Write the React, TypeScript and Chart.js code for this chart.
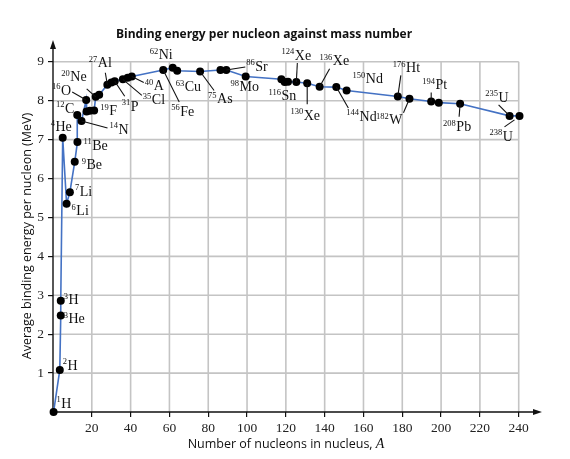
import React, { useEffect, useRef } from "react";
import Chart, { ChartConfiguration, Plugin } from "chart.js/auto";

// mass number A of each plotted nucleus
const massNumbers = [
  0.3, 3.5, 4, 4, 5, 7, 8.7, 11.2, 12.6, 12.5, 14.7, 17.1, 17.3, 19, 21.2, 22, 23.8,
  28, 30.1, 31.8, 36, 38.5, 40.6, 56.8, 61.7, 64, 75.8, 86.3, 89.3, 99.3, 117.7,
  119.4, 121.1, 125.4, 131, 137.4, 146, 151.3, 177.7, 183.7, 194.9, 198.8, 209.8,
  235.3, 240.4,
];
// average binding energy per nucleon, MeV
const energies = [
  0, 1.08, 2.48, 2.86, 7.05, 5.35, 5.65, 6.43, 6.94, 7.63, 7.48, 8.02, 7.72, 7.74,
  7.75, 8.1, 8.15, 8.41, 8.47, 8.5, 8.55, 8.59, 8.62, 8.79, 8.85, 8.77, 8.75, 8.79,
  8.79, 8.62, 8.55, 8.48, 8.49, 8.48, 8.45, 8.36, 8.35, 8.26, 8.11, 8.05, 7.98, 7.95,
  7.92, 7.61, 7.61,
];
// isotope tag for each point, "" when the dot has no label
const isotopes = [
  "1H", "2H", "3He", "3H", "4He", "6Li", "7Li", "9Be", "11Be", "12C", "14N", "16O", "",
  "", "19F", "20Ne", "", "27Al", "", "31P", "35Cl", "", "40A", "56Fe", "62Ni", "63Cu",
  "75As", "", "86Sr", "98Mo", "116Sn", "", "", "124Xe", "130Xe", "136Xe", "144Nd",
  "150Nd", "176Ht", "182W", "194Pt", "", "208Pb", "235U", "238U",
];
const xTickValues = [20, 40, 60, 80, 100, 120, 140, 160, 180, 200, 220, 240];
const yTickValues = [1, 2, 3, 4, 5, 6, 7, 8, 9];

const X_GRID_MAX = 240;
const Y_GRID_MAX = 9;

type Placement = {
  dx: number;
  dy: number;
  align: "left" | "right" | "center";
  leader?: [number, number, number, number];
};

// label offsets (px) from the dot, plus optional leader line
const labelPlacement: Record<string, Placement> = {
  "1H": { dx: 3, dy: -8, align: "left" },
  "2H": { dx: 3, dy: -4, align: "left" },
  "3H": { dx: 3, dy: 0, align: "left" },
  "3He": { dx: 3, dy: 4, align: "left" },
  "4He": { dx: -12, dy: -10, align: "left" },
  "6Li": { dx: 5, dy: 8, align: "left" },
  "7Li": { dx: 5, dy: 0, align: "left" },
  "9Be": { dx: 7, dy: 4, align: "left" },
  "11Be": { dx: 6, dy: 4, align: "left" },
  "12C": { dx: -3, dy: -6, align: "right" },
  "14N": { dx: 28, dy: 9, align: "left", leader: [0, 0, 26, 7] },
  "16O": { dx: -15, dy: -9, align: "right", leader: [0, 0, -14, -8] },
  "20Ne": { dx: -9, dy: -19, align: "right", leader: [0, 0, -9, -8] },
  "19F": { dx: 6, dy: 1, align: "left" },
  "27Al": { dx: -7, dy: -21, align: "center", leader: [0, 0, -2, -12] },
  "31P": { dx: 7, dy: 26, align: "left", leader: [0, 0, 10, 15] },
  "35Cl": { dx: 20, dy: 21, align: "left", leader: [0, 0, 19, 16] },
  "40A": { dx: 13, dy: 10, align: "left", leader: [0, 0, 12, 6] },
  "56Fe": { dx: 8, dy: 42, align: "left", leader: [0, 0, 16, 32] },
  "62Ni": { dx: 0, dy: -12, align: "right" },
  "63Cu": { dx: -1.5, dy: 17, align: "left" },
  "75As": { dx: 8, dy: 28, align: "left", leader: [0, 0, 14, 19] },
  "86Sr": { dx: 20, dy: -3, align: "left", leader: [0, 0, 19, -3] },
  "98Mo": { dx: -1, dy: 11, align: "center" },
  "116Sn": { dx: 1, dy: 17, align: "center" },
  "124Xe": { dx: 0, dy: -26, align: "center", leader: [1, -19, 0, 0] },
  "130Xe": { dx: -2, dy: 33, align: "center", leader: [0, 0, 0, 21] },
  "136Xe": { dx: 0, dy: -25, align: "left", leader: [0, 0, 10, -18] },
  "144Nd": { dx: 10, dy: 30, align: "left", leader: [0, 0, 12, 21] },
  "150Nd": { dx: 6, dy: -11, align: "left" },
  "176Ht": { dx: -5, dy: -28, align: "left", leader: [0, 0, 3, -21] },
  "182W": { dx: -7, dy: 22, align: "right", leader: [0, 0, -6, 14] },
  "194Pt": { dx: -9, dy: -16, align: "left", leader: [0, -9, 0, 0] },
  "208Pb": { dx: -3, dy: 24, align: "center", leader: [0, 0, -1, 13] },
  "235U": { dx: -1, dy: -18, align: "right", leader: [-11, -11, 0, 0] },
  "238U": { dx: -30, dy: 21, align: "left", leader: [-5, 4, -15, 11] },
};

const SERIF = "'Liberation Serif', 'DejaVu Serif', serif";
const SANS = "'Open Sans', 'Noto Sans', sans-serif";

function drawIsotope(ctx: CanvasRenderingContext2D, x: number, y: number, tag: string, align: string) {
  const m = tag.match(/^(\d+)(.+)$/);
  if (!m) return;
  const supFont = `8.5px ${SERIF}`;
  const symFont = `14px ${SERIF}`;
  ctx.font = supFont;
  const wSup = ctx.measureText(m[1]).width;
  ctx.font = symFont;
  const wSym = ctx.measureText(m[2]).width;
  const total = wSup + 0.5 + wSym;
  let start = x;
  if (align === "right") start = x - total;
  else if (align === "center") start = x - total / 2;
  ctx.textAlign = "left";
  ctx.textBaseline = "middle";
  ctx.fillStyle = "#111";
  ctx.font = supFont;
  ctx.fillText(m[1], start, y - 4);
  ctx.font = symFont;
  ctx.fillText(m[2], start + wSup + 0.5, y);
}

const framePlugin: Plugin<"line"> = {
  id: "frame",
  beforeDatasetsDraw(chart) {
    const { ctx, chartArea, scales } = chart;
    const xs = scales.x;
    const ys = scales.y;
    const x0 = xs.getPixelForValue(0);
    const y0 = ys.getPixelForValue(0);
    const xEnd = xs.getPixelForValue(X_GRID_MAX);
    const yEnd = ys.getPixelForValue(Y_GRID_MAX);
    ctx.save();
    // grid box
    ctx.strokeStyle = "#c4c4c4";
    ctx.lineWidth = 1.6;
    ctx.beginPath();
    xTickValues.forEach((v) => {
      const px = xs.getPixelForValue(v);
      ctx.moveTo(px, y0);
      ctx.lineTo(px, yEnd);
    });
    yTickValues.forEach((v) => {
      const py = ys.getPixelForValue(v);
      ctx.moveTo(x0, py);
      ctx.lineTo(xEnd, py);
    });
    ctx.stroke();
    // axes with arrows
    ctx.strokeStyle = "#111";
    ctx.fillStyle = "#111";
    ctx.lineWidth = 1.4;
    ctx.beginPath();
    ctx.moveTo(x0, y0);
    ctx.lineTo(x0, chartArea.top + 6);
    ctx.moveTo(x0, y0);
    ctx.lineTo(chartArea.right - 6, y0);
    ctx.stroke();
    ctx.beginPath();
    ctx.moveTo(x0, chartArea.top);
    ctx.lineTo(x0 - 3, chartArea.top + 9);
    ctx.lineTo(x0 + 3, chartArea.top + 9);
    ctx.closePath();
    ctx.moveTo(chartArea.right, y0);
    ctx.lineTo(chartArea.right - 9, y0 - 3);
    ctx.lineTo(chartArea.right - 9, y0 + 3);
    ctx.closePath();
    ctx.fill();
    ctx.restore();
  },
  afterDatasetsDraw(chart) {
    const { ctx } = chart;
    const meta = chart.getDatasetMeta(0);
    ctx.save();
    isotopes.forEach((tag, i) => {
      if (!tag) return;
      const p = labelPlacement[tag];
      if (!p) return;
      const pt = meta.data[i];
      if (p.leader) {
        const [a, b, c, d] = p.leader;
        ctx.strokeStyle = "#111";
        ctx.lineWidth = 1.1;
        ctx.beginPath();
        ctx.moveTo(pt.x + a, pt.y + b);
        ctx.lineTo(pt.x + c, pt.y + d);
        ctx.stroke();
      }
      drawIsotope(ctx, pt.x + p.dx, pt.y + p.dy, tag, p.align);
    });

    // titles
    ctx.fillStyle = "#111";
    ctx.textBaseline = "alphabetic";
    ctx.textAlign = "center";
    ctx.font = `bold 12px ${SANS}`;
    ctx.fillText("Binding energy per nucleon against mass number", 264, 38);

    ctx.save();
    ctx.translate(31, 236);
    ctx.rotate(-Math.PI / 2);
    ctx.font = `12.5px ${SANS}`;
    ctx.fillText("Average binding energy per nucleon (MeV)", 0, 0);
    ctx.restore();

    const xPart = "Number of nucleons in nucleus, ";
    ctx.font = `12.5px ${SANS}`;
    const w1 = ctx.measureText(xPart).width;
    ctx.font = `italic 14px ${SERIF}`;
    const w2 = ctx.measureText("A").width;
    const sx = 286 - (w1 + w2) / 2;
    ctx.textAlign = "left";
    ctx.font = `12.5px ${SANS}`;
    ctx.fillText(xPart, sx, 448);
    ctx.font = `italic 14px ${SERIF}`;
    ctx.fillText("A", sx + w1, 448);
    ctx.restore();
  },
};

function BindingEnergyChart(): JSX.Element {
  const chartRef = useRef<HTMLCanvasElement | null>(null);
  const chartInstance = useRef<Chart<"line"> | null>(null);

  useEffect(() => {
    if (!chartRef.current) return;
    const ctx = chartRef.current.getContext("2d");
    if (!ctx) return;
    if (chartInstance.current) chartInstance.current.destroy();

    const tickFont = { family: SERIF, size: 13.5 };

    const config: ChartConfiguration<"line"> = {
      type: "line",
      data: {
        datasets: [
          {
            data: massNumbers.map((a, i) => ({ x: a, y: energies[i] })),
            borderColor: "#4472c4",
            borderWidth: 1.6,
            pointRadius: 4,
            pointBackgroundColor: "#000",
            pointBorderColor: "#000",
            pointBorderWidth: 0,
            tension: 0,
            clip: false,
          },
        ],
      },
      options: {
        animation: false,
        responsive: false,
        events: [],
        layout: { padding: { left: 13, right: 28, top: 40, bottom: 17 } },
        plugins: {
          legend: { display: false },
          tooltip: { enabled: false },
          title: { display: false },
        },
        scales: {
          x: {
            type: "linear",
            min: 0,
            max: 252,
            border: { display: false },
            grid: { drawOnChartArea: false, color: "#111", tickLength: 5, lineWidth: 1.2 },
            ticks: { padding: 3, autoSkip: false, maxRotation: 0, color: "#222", font: tickFont },
            afterBuildTicks: (axis) => {
              axis.ticks = xTickValues.map((v) => ({ value: v }));
            },
            afterFit: (axis) => {
              axis.height = 30;
            },
          },
          y: {
            type: "linear",
            min: 0,
            max: 9.56,
            border: { display: false },
            grid: { drawOnChartArea: false, color: "#111", tickLength: 5, lineWidth: 1.2 },
            ticks: { padding: 4, autoSkip: false, color: "#222", font: tickFont },
            afterBuildTicks: (axis) => {
              axis.ticks = yTickValues.map((v) => ({ value: v }));
            },
            afterFit: (axis) => {
              axis.width = 40;
            },
          },
        },
      },
      plugins: [framePlugin],
    };

    chartInstance.current = new Chart(ctx, config);

    return () => {
      chartInstance.current?.destroy();
      chartInstance.current = null;
    };
  }, []);

  return <canvas ref={chartRef} width={570} height={459} />;
}

export default function App(): JSX.Element {
  return (
    <div style={{ position: "absolute", left: 0, top: 0, width: 570, height: 459, background: "#fff" }}>
      <BindingEnergyChart />
    </div>
  );
}
